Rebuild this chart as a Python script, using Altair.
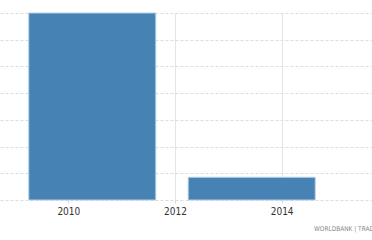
import altair as alt
import pandas as pd

periods = ["2010-06-14", "2013-06-10"]
values = [7.0, 0.85]
tick_years = ["2010-01-01", "2012-01-01", "2014-01-01"]
footer = "WORLDBANK | TRADINGECONOMICS.COM"

df = pd.DataFrame({"date": periods, "value": values})

narrow = "Liberation Sans Narrow, DejaVu Sans Condensed, sans-serif"

chart = (
    alt.Chart(df)
    .mark_bar(size=127, color="#4682b4", stroke="#b5cde2", strokeWidth=1)
    .encode(
        x=alt.X(
            "date:T",
            scale=alt.Scale(domain=["2008-09-20", "2015-09-12"], padding=0),
            axis=alt.Axis(
                values=tick_years,
                format="%Y",
                title=None,
                domain=False,
                grid=True,
                gridColor="#e4e4e4",
                gridWidth=1,
                tickColor="#d8d8d8",
                tickSize=3,
                labelFont=narrow,
                labelFontSize=10,
                labelColor="#333333",
                labelPadding=3,
            ),
        ),
        y=alt.Y(
            "value:Q",
            scale=alt.Scale(domain=[0, 7], nice=False),
            axis=alt.Axis(
                values=[0, 1, 2, 3, 4, 5, 6, 7],
                labels=False,
                ticks=False,
                domain=False,
                title=None,
                grid=True,
                gridColor="#dddddd",
                gridDash=[3, 2],
            ),
        ),
    )
    .properties(
        width=372,
        height=187,
        autosize=alt.AutoSizeParams(type="none"),
        padding={"left": 0, "top": 13, "right": 0, "bottom": 40},
        title=alt.TitleParams(
            text=footer,
            orient="bottom",
            anchor="start",
            dx=314,
            offset=10,
            font=narrow,
            fontSize=6.5,
            fontWeight="normal",
            color="#888888",
        ),
    )
    .configure_view(stroke=None)
)

chart.save("out.html", embed_options={"renderer": "svg", "actions": False})
